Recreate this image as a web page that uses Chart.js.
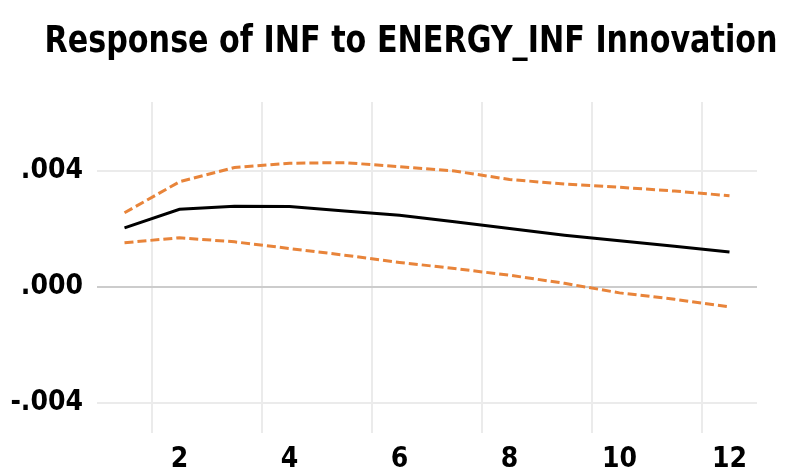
<!DOCTYPE html>
<html>
<head>
<meta charset="utf-8">
<script src="https://cdn.jsdelivr.net/npm/chart.js@4/dist/chart.umd.min.js"></script>
<style>
  html, body { margin: 0; padding: 0; background: #fff; }
  #wrap { width: 789px; height: 473px; }
</style>
</head>
<body>
<div id="wrap"><canvas id="chart"></canvas></div>
<script>
const periods = [1, 2, 3, 4, 5, 6, 7, 8, 9, 10, 11, 12];
const response = [0.00204, 0.00268, 0.00279, 0.00278, 0.00262, 0.00248, 0.00225, 0.00202, 0.00179, 0.00160, 0.00141, 0.00121];
const upperBand = [0.00256, 0.00363, 0.00412, 0.00427, 0.00429, 0.00415, 0.00400, 0.00371, 0.00355, 0.00344, 0.00331, 0.00315];
const lowerBand = [0.00153, 0.00170, 0.00156, 0.00133, 0.00110, 0.00085, 0.00064, 0.00041, 0.00013, -0.00020, -0.00042, -0.00068];
const xTickLabels = [2, 4, 6, 8, 10, 12];
const xGridAt = [1.5, 3.5, 5.5, 7.5, 9.5, 11.5];
const yTickValues = [-0.004, 0, 0.004];
const chartTitle = 'Response of INF to ENERGY_INF Innovation';

const fontFamily = "'DejaVu Sans Condensed', 'Liberation Sans', sans-serif";
const orange = '#E8843A';

const toPoints = arr => arr.map((v, i) => ({ x: periods[i], y: v }));

// title sits a bit right of the canvas centre, as in the source picture;
// squeezed to the source width since the original face is narrower
const titlePlugin = {
  id: 'offsetTitle',
  afterDraw(chart) {
    const ctx = chart.ctx;
    ctx.save();
    ctx.font = 'bold 37px ' + fontFamily;
    ctx.fillStyle = '#000';
    ctx.textAlign = 'center';
    ctx.textBaseline = 'alphabetic';
    ctx.fillText(chartTitle, 411, 52, 733);
    ctx.restore();
  }
};

const bandStyle = {
  borderColor: orange,
  borderWidth: 3,
  borderDash: [9, 4],
  pointRadius: 0,
  tension: 0,
  fill: false
};

new Chart(document.getElementById('chart'), {
  type: 'line',
  data: {
    datasets: [
      {
        label: 'Response',
        data: toPoints(response),
        borderColor: '#000000',
        borderWidth: 3,
        pointRadius: 0,
        tension: 0,
        fill: false
      },
      Object.assign({ label: 'Upper', data: toPoints(upperBand) }, bandStyle),
      Object.assign({ label: 'Lower', data: toPoints(lowerBand) }, bandStyle)
    ]
  },
  options: {
    responsive: true,
    maintainAspectRatio: false,
    animation: false,
    layout: { padding: { left: 0, right: 32, top: 102, bottom: 0 } },
    plugins: {
      legend: { display: false },
      tooltip: { enabled: false },
      title: { display: false }
    },
    scales: {
      x: {
        type: 'linear',
        min: 0.5,
        max: 12.5,
        afterBuildTicks: scale => {
          const vals = xGridAt.concat(xTickLabels).sort((a, b) => a - b);
          scale.ticks = vals.map(v => ({ value: v }));
        },
        afterFit: scale => { scale.height = 40; },
        border: { display: false },
        grid: {
          drawTicks: false,
          lineWidth: 2,
          color: ctx => (ctx.tick && xGridAt.includes(ctx.tick.value)) ? '#ebebeb' : 'rgba(0,0,0,0)'
        },
        ticks: {
          autoSkip: false,
          maxRotation: 0,
          padding: 10,
          color: '#000',
          font: { family: fontFamily, weight: 'bold', size: 28 },
          callback: v => xTickLabels.includes(v) ? String(v) : ''
        }
      },
      y: {
        min: -0.00503,
        max: 0.00638,
        afterBuildTicks: scale => {
          scale.ticks = yTickValues.map(v => ({ value: v }));
        },
        afterFit: scale => { scale.width = 97; },
        border: { display: false },
        grid: {
          drawTicks: false,
          lineWidth: 2,
          color: ctx => (ctx.tick && ctx.tick.value === 0) ? '#cccccc' : '#ebebeb'
        },
        ticks: {
          padding: 14,
          color: '#000',
          font: { family: fontFamily, weight: 'bold', size: 28 },
          callback: v => (v < 0 ? '-' : '') + Math.abs(v).toFixed(3).slice(1)
        }
      }
    }
  },
  plugins: [titlePlugin]
});
</script>
</body>
</html>
